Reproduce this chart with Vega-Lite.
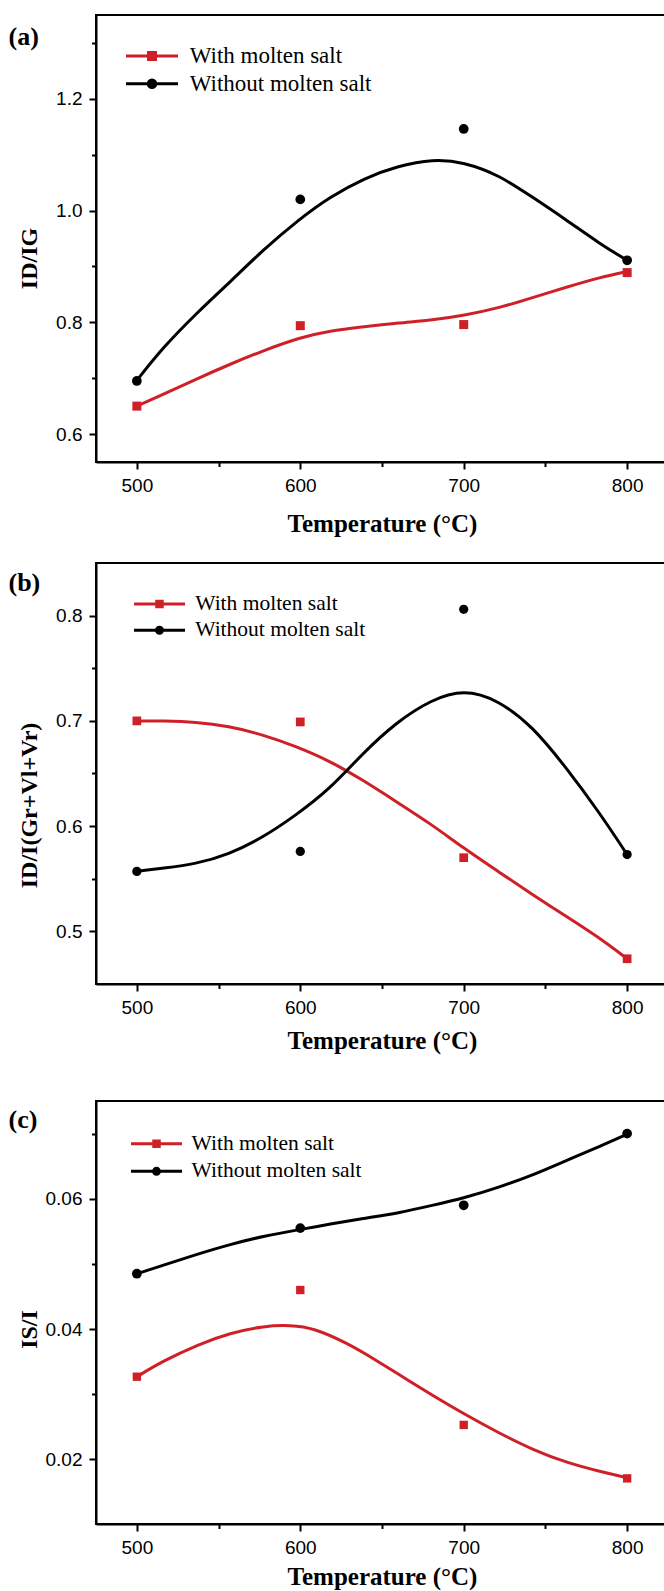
{
  "$schema": "https://vega.github.io/schema/vega-lite/v6.json",
  "padding": {"left": 7, "top": 14, "right": 0, "bottom": 0},
  "background": "white",
  "config": {
    "font": "Liberation Sans",
    "view": {"stroke": "black", "strokeWidth": 2},
    "axis": {
      "grid": false,
      "domainColor": "black",
      "domainWidth": 2,
      "tickColor": "black",
      "tickWidth": 2,
      "labelFont": "Liberation Sans",
      "labelFontSize": 19,
      "labelColor": "black",
      "labelPadding": 7,
      "titleFont": "Liberation Serif",
      "titleFontWeight": "bold",
      "titleFontSize": 25,
      "titleColor": "black"
    }
  },
  "datasets": {
    "pts": [
      {"panel": "a", "series": "With molten salt", "temp": 500, "value": 0.650},
      {"panel": "a", "series": "With molten salt", "temp": 600, "value": 0.794},
      {"panel": "a", "series": "With molten salt", "temp": 700, "value": 0.796},
      {"panel": "a", "series": "With molten salt", "temp": 800, "value": 0.889},
      {"panel": "a", "series": "Without molten salt", "temp": 500, "value": 0.695},
      {"panel": "a", "series": "Without molten salt", "temp": 600, "value": 1.020},
      {"panel": "a", "series": "Without molten salt", "temp": 700, "value": 1.146},
      {"panel": "a", "series": "Without molten salt", "temp": 800, "value": 0.911},
      {"panel": "b", "series": "With molten salt", "temp": 500, "value": 0.700},
      {"panel": "b", "series": "With molten salt", "temp": 600, "value": 0.699},
      {"panel": "b", "series": "With molten salt", "temp": 700, "value": 0.570},
      {"panel": "b", "series": "With molten salt", "temp": 800, "value": 0.474},
      {"panel": "b", "series": "Without molten salt", "temp": 500, "value": 0.557},
      {"panel": "b", "series": "Without molten salt", "temp": 600, "value": 0.576},
      {"panel": "b", "series": "Without molten salt", "temp": 700, "value": 0.806},
      {"panel": "b", "series": "Without molten salt", "temp": 800, "value": 0.573},
      {"panel": "c", "series": "With molten salt", "temp": 500, "value": 0.0327},
      {"panel": "c", "series": "With molten salt", "temp": 600, "value": 0.0460},
      {"panel": "c", "series": "With molten salt", "temp": 700, "value": 0.0253},
      {"panel": "c", "series": "With molten salt", "temp": 800, "value": 0.0171},
      {"panel": "c", "series": "Without molten salt", "temp": 500, "value": 0.0485},
      {"panel": "c", "series": "Without molten salt", "temp": 600, "value": 0.0555},
      {"panel": "c", "series": "Without molten salt", "temp": 700, "value": 0.0590},
      {"panel": "c", "series": "Without molten salt", "temp": 800, "value": 0.0700}
    ],
    "fit": [
      {"panel": "a", "series": "With molten salt", "temp": 500, "value": 0.650},
      {"panel": "a", "series": "With molten salt", "temp": 516, "value": 0.671},
      {"panel": "a", "series": "With molten salt", "temp": 536, "value": 0.698},
      {"panel": "a", "series": "With molten salt", "temp": 557, "value": 0.725},
      {"panel": "a", "series": "With molten salt", "temp": 577, "value": 0.749},
      {"panel": "a", "series": "With molten salt", "temp": 600, "value": 0.773},
      {"panel": "a", "series": "With molten salt", "temp": 618, "value": 0.785},
      {"panel": "a", "series": "With molten salt", "temp": 639, "value": 0.792},
      {"panel": "a", "series": "With molten salt", "temp": 660, "value": 0.799},
      {"panel": "a", "series": "With molten salt", "temp": 681, "value": 0.804},
      {"panel": "a", "series": "With molten salt", "temp": 700, "value": 0.812},
      {"panel": "a", "series": "With molten salt", "temp": 722, "value": 0.826},
      {"panel": "a", "series": "With molten salt", "temp": 742, "value": 0.844},
      {"panel": "a", "series": "With molten salt", "temp": 763, "value": 0.863},
      {"panel": "a", "series": "With molten salt", "temp": 783, "value": 0.880},
      {"panel": "a", "series": "With molten salt", "temp": 800, "value": 0.891},
      {"panel": "a", "series": "Without molten salt", "temp": 500, "value": 0.696},
      {"panel": "a", "series": "Without molten salt", "temp": 516, "value": 0.755},
      {"panel": "a", "series": "Without molten salt", "temp": 536, "value": 0.815},
      {"panel": "a", "series": "Without molten salt", "temp": 557, "value": 0.872},
      {"panel": "a", "series": "Without molten salt", "temp": 577, "value": 0.929},
      {"panel": "a", "series": "Without molten salt", "temp": 600, "value": 0.986},
      {"panel": "a", "series": "Without molten salt", "temp": 618, "value": 1.024},
      {"panel": "a", "series": "Without molten salt", "temp": 639, "value": 1.058},
      {"panel": "a", "series": "Without molten salt", "temp": 660, "value": 1.080},
      {"panel": "a", "series": "Without molten salt", "temp": 681, "value": 1.092},
      {"panel": "a", "series": "Without molten salt", "temp": 700, "value": 1.087},
      {"panel": "a", "series": "Without molten salt", "temp": 722, "value": 1.063},
      {"panel": "a", "series": "Without molten salt", "temp": 742, "value": 1.024},
      {"panel": "a", "series": "Without molten salt", "temp": 763, "value": 0.983},
      {"panel": "a", "series": "Without molten salt", "temp": 783, "value": 0.941},
      {"panel": "a", "series": "Without molten salt", "temp": 800, "value": 0.911},
      {"panel": "b", "series": "With molten salt", "temp": 500, "value": 0.700},
      {"panel": "b", "series": "With molten salt", "temp": 516, "value": 0.700},
      {"panel": "b", "series": "With molten salt", "temp": 536, "value": 0.699},
      {"panel": "b", "series": "With molten salt", "temp": 556, "value": 0.695},
      {"panel": "b", "series": "With molten salt", "temp": 577, "value": 0.687},
      {"panel": "b", "series": "With molten salt", "temp": 597, "value": 0.676},
      {"panel": "b", "series": "With molten salt", "temp": 618, "value": 0.662},
      {"panel": "b", "series": "With molten salt", "temp": 638, "value": 0.644},
      {"panel": "b", "series": "With molten salt", "temp": 659, "value": 0.623},
      {"panel": "b", "series": "With molten salt", "temp": 680, "value": 0.602},
      {"panel": "b", "series": "With molten salt", "temp": 700, "value": 0.579},
      {"panel": "b", "series": "With molten salt", "temp": 721, "value": 0.557},
      {"panel": "b", "series": "With molten salt", "temp": 742, "value": 0.535},
      {"panel": "b", "series": "With molten salt", "temp": 762, "value": 0.515},
      {"panel": "b", "series": "With molten salt", "temp": 783, "value": 0.494},
      {"panel": "b", "series": "With molten salt", "temp": 800, "value": 0.474},
      {"panel": "b", "series": "Without molten salt", "temp": 500, "value": 0.557},
      {"panel": "b", "series": "Without molten salt", "temp": 516, "value": 0.560},
      {"panel": "b", "series": "Without molten salt", "temp": 536, "value": 0.564},
      {"panel": "b", "series": "Without molten salt", "temp": 556, "value": 0.573},
      {"panel": "b", "series": "Without molten salt", "temp": 577, "value": 0.589},
      {"panel": "b", "series": "Without molten salt", "temp": 597, "value": 0.610},
      {"panel": "b", "series": "Without molten salt", "temp": 618, "value": 0.635},
      {"panel": "b", "series": "Without molten salt", "temp": 638, "value": 0.669},
      {"panel": "b", "series": "Without molten salt", "temp": 659, "value": 0.699},
      {"panel": "b", "series": "Without molten salt", "temp": 680, "value": 0.720},
      {"panel": "b", "series": "Without molten salt", "temp": 700, "value": 0.730},
      {"panel": "b", "series": "Without molten salt", "temp": 721, "value": 0.720},
      {"panel": "b", "series": "Without molten salt", "temp": 742, "value": 0.695},
      {"panel": "b", "series": "Without molten salt", "temp": 762, "value": 0.657},
      {"panel": "b", "series": "Without molten salt", "temp": 783, "value": 0.613},
      {"panel": "b", "series": "Without molten salt", "temp": 800, "value": 0.573},
      {"panel": "c", "series": "With molten salt", "temp": 500, "value": 0.0327},
      {"panel": "c", "series": "With molten salt", "temp": 516, "value": 0.0351},
      {"panel": "c", "series": "With molten salt", "temp": 537, "value": 0.0376},
      {"panel": "c", "series": "With molten salt", "temp": 557, "value": 0.0394},
      {"panel": "c", "series": "With molten salt", "temp": 578, "value": 0.0405},
      {"panel": "c", "series": "With molten salt", "temp": 594, "value": 0.0406},
      {"panel": "c", "series": "With molten salt", "temp": 608, "value": 0.0402},
      {"panel": "c", "series": "With molten salt", "temp": 629, "value": 0.0378},
      {"panel": "c", "series": "With molten salt", "temp": 640, "value": 0.0362},
      {"panel": "c", "series": "With molten salt", "temp": 660, "value": 0.0331},
      {"panel": "c", "series": "With molten salt", "temp": 681, "value": 0.0298},
      {"panel": "c", "series": "With molten salt", "temp": 700, "value": 0.0270},
      {"panel": "c", "series": "With molten salt", "temp": 722, "value": 0.0240},
      {"panel": "c", "series": "With molten salt", "temp": 743, "value": 0.0214},
      {"panel": "c", "series": "With molten salt", "temp": 763, "value": 0.0195},
      {"panel": "c", "series": "With molten salt", "temp": 784, "value": 0.0181},
      {"panel": "c", "series": "With molten salt", "temp": 800, "value": 0.0172},
      {"panel": "c", "series": "Without molten salt", "temp": 500, "value": 0.0485},
      {"panel": "c", "series": "Without molten salt", "temp": 516, "value": 0.0498},
      {"panel": "c", "series": "Without molten salt", "temp": 537, "value": 0.0515},
      {"panel": "c", "series": "Without molten salt", "temp": 557, "value": 0.0530},
      {"panel": "c", "series": "Without molten salt", "temp": 578, "value": 0.0543},
      {"panel": "c", "series": "Without molten salt", "temp": 600, "value": 0.0553},
      {"panel": "c", "series": "Without molten salt", "temp": 618, "value": 0.0561},
      {"panel": "c", "series": "Without molten salt", "temp": 639, "value": 0.0570},
      {"panel": "c", "series": "Without molten salt", "temp": 660, "value": 0.0578},
      {"panel": "c", "series": "Without molten salt", "temp": 681, "value": 0.0590},
      {"panel": "c", "series": "Without molten salt", "temp": 700, "value": 0.0601},
      {"panel": "c", "series": "Without molten salt", "temp": 722, "value": 0.0618},
      {"panel": "c", "series": "Without molten salt", "temp": 743, "value": 0.0637},
      {"panel": "c", "series": "Without molten salt", "temp": 763, "value": 0.0659},
      {"panel": "c", "series": "Without molten salt", "temp": 784, "value": 0.0681},
      {"panel": "c", "series": "Without molten salt", "temp": 800, "value": 0.0699}
    ]
  },
  "spacing": 46,
  "resolve": {"scale": {"color": "independent", "shape": "independent"}, "legend": {"color": "independent", "shape": "independent"}},
  "vconcat": [
    {
      "spacing": 25,
      "resolve": {"scale": {"color": "independent", "shape": "independent"}, "legend": {"color": "independent", "shape": "independent"}},
      "vconcat": [
        {
          "width": 572,
          "height": 447,
          "resolve": {"axis": {"x": "independent"}},
          "encoding": {
            "x": {"field": "temp", "type": "quantitative", "scale": {"domain": [475, 825], "nice": false, "zero": false}, "axis": null},
            "y": {"field": "value", "type": "quantitative", "scale": {"domain": [0.55, 1.35], "nice": false, "zero": false},
              "axis": {"title": "ID/IG", "titleFontSize": 24, "titlePadding": 10, "minExtent": 45, "maxExtent": 45, "titleY": 243,
                "values": [0.6, 0.7, 0.8, 0.9, 1.0, 1.1, 1.2, 1.3], "format": ".1f",
                "labelExpr": "round(datum.value * 10) % 2 === 0 ? datum.label : ''", "labelOverlap": false,
                "tickSize": {"condition": {"test": "round(datum.value * 10) % 2 !== 0", "value": 4.5}, "value": 7}}},
            "color": {"field": "series", "type": "nominal",
              "scale": {"domain": ["With molten salt", "Without molten salt"], "range": ["#cf2027", "#000000"]},
              "legend": {"orient": "none", "legendX": 44.5, "legendY": 29.5, "title": null, "padding": 0,
                "labelFont": "Liberation Serif", "labelFontSize": 23, "labelColor": "black", "labelLimit": 400,
                "labelOffset": 26.2, "rowPadding": 3.8, "symbolSize": 100, "symbolStrokeWidth": 3, "symbolOpacity": 1}}
          },
          "layer": [
            {"data": {"name": "fit"}, "transform": [{"filter": "datum.panel === 'a'"}],
              "mark": {"type": "line", "strokeWidth": 3, "interpolate": "basis"},
              "encoding": {
                "x": {"field": "temp", "type": "quantitative", "scale": {"domain": [475, 825], "nice": false, "zero": false},
                  "axis": {"title": "Temperature (°C)", "titlePadding": 16, "values": [500, 550, 600, 650, 700, 750, 800],
                    "labelExpr": "datum.value % 100 === 0 ? datum.label : ''", "labelFlush": false, "labelOverlap": false,
                    "tickSize": {"condition": {"test": "datum.value % 100 !== 0", "value": 4.5}, "value": 7}}}}},
            {"data": {"name": "pts"}, "transform": [{"filter": "false"}],
              "mark": {"type": "point", "filled": true, "size": 100},
              "encoding": {
                "x": {"field": "temp", "type": "quantitative", "scale": {"domain": [475, 825], "nice": false, "zero": false},
                  "axis": {"orient": "top", "title": "(a)", "domain": false, "ticks": false, "labels": false,
                    "titleX": -88, "titleY": 21, "titleAlign": "left", "titleBaseline": "middle", "titleAngle": 0,
                    "titleFontSize": 26, "titlePadding": 0}},
                "shape": {"field": "series", "type": "nominal",
                  "scale": {"domain": ["With molten salt", "Without molten salt"], "range": ["M-5.2,0H5.2M-0.7,-0.7H0.7V0.7H-0.7Z", "M-5.2,0H5.2M-0.75,0A0.75,0.75,0,1,0,0.75,0A0.75,0.75,0,1,0,-0.75,0Z"]},
                  "legend": {"orient": "none", "legendX": 44.5, "legendY": 29.5, "title": null, "padding": 0,
                    "labelFont": "Liberation Serif", "labelFontSize": 23, "labelColor": "black", "labelLimit": 400,
                    "labelOffset": 26.2, "rowPadding": 3.8, "symbolSize": 100, "symbolStrokeWidth": 3, "symbolOpacity": 1}}}},
            {"data": {"name": "pts"}, "transform": [{"filter": "datum.panel === 'a' && datum.series === 'With molten salt'"}],
              "mark": {"type": "square", "size": 81, "opacity": 1}},
            {"data": {"name": "pts"}, "transform": [{"filter": "datum.panel === 'a' && datum.series === 'Without molten salt'"}],
              "mark": {"type": "circle", "size": 95, "opacity": 1}}
          ]
        },
        {
          "width": 572,
          "height": 421,
          "resolve": {"axis": {"x": "independent"}},
          "encoding": {
            "x": {"field": "temp", "type": "quantitative", "scale": {"domain": [475, 825], "nice": false, "zero": false}, "axis": null},
            "y": {"field": "value", "type": "quantitative", "scale": {"domain": [0.45, 0.85], "nice": false, "zero": false},
              "axis": {"title": "ID/I(Gr+Vl+Vr)", "titleFontSize": 24, "titlePadding": 10, "minExtent": 45, "maxExtent": 45, "titleY": 242,
                "values": [0.5, 0.55, 0.6, 0.65, 0.7, 0.75, 0.8], "format": ".1f",
                "labelExpr": "round(datum.value * 100) % 10 === 0 ? datum.label : ''", "labelOverlap": false,
                "tickSize": {"condition": {"test": "round(datum.value * 100) % 10 !== 0", "value": 4.5}, "value": 7}}},
            "color": {"field": "series", "type": "nominal",
              "scale": {"domain": ["With molten salt", "Without molten salt"], "range": ["#cf2027", "#000000"]},
              "legend": {"orient": "none", "legendX": 52.75, "legendY": 30.3, "title": null, "padding": 0,
                "labelFont": "Liberation Serif", "labelFontSize": 21.5, "labelColor": "black", "labelLimit": 400,
                "labelOffset": 24.95, "rowPadding": 3.2, "symbolSize": 100, "symbolStrokeWidth": 3, "symbolOpacity": 1}}
          },
          "layer": [
            {"data": {"name": "fit"}, "transform": [{"filter": "datum.panel === 'b'"}],
              "mark": {"type": "line", "strokeWidth": 3, "interpolate": "basis"},
              "encoding": {
                "x": {"field": "temp", "type": "quantitative", "scale": {"domain": [475, 825], "nice": false, "zero": false},
                  "axis": {"title": "Temperature (°C)", "titlePadding": 11, "values": [500, 550, 600, 650, 700, 750, 800],
                    "labelExpr": "datum.value % 100 === 0 ? datum.label : ''", "labelFlush": false, "labelOverlap": false,
                    "tickSize": {"condition": {"test": "datum.value % 100 !== 0", "value": 4.5}, "value": 7}}}}},
            {"data": {"name": "pts"}, "transform": [{"filter": "false"}],
              "mark": {"type": "point", "filled": true, "size": 100},
              "encoding": {
                "x": {"field": "temp", "type": "quantitative", "scale": {"domain": [475, 825], "nice": false, "zero": false},
                  "axis": {"orient": "top", "title": "(b)", "domain": false, "ticks": false, "labels": false,
                    "titleX": -88, "titleY": 19, "titleAlign": "left", "titleBaseline": "middle", "titleAngle": 0,
                    "titleFontSize": 26, "titlePadding": 0}},
                "shape": {"field": "series", "type": "nominal",
                  "scale": {"domain": ["With molten salt", "Without molten salt"], "range": ["M-5.1,0H5.1M-0.55,-0.55H0.55V0.55H-0.55Z", "M-5.1,0H5.1M-0.6,0A0.6,0.6,0,1,0,0.6,0A0.6,0.6,0,1,0,-0.6,0Z"]},
                  "legend": {"orient": "none", "legendX": 52.75, "legendY": 30.3, "title": null, "padding": 0,
                    "labelFont": "Liberation Serif", "labelFontSize": 21.5, "labelColor": "black", "labelLimit": 400,
                    "labelOffset": 24.95, "rowPadding": 3.2, "symbolSize": 100, "symbolStrokeWidth": 3, "symbolOpacity": 1}}}},
            {"data": {"name": "pts"}, "transform": [{"filter": "datum.panel === 'b' && datum.series === 'With molten salt'"}],
              "mark": {"type": "square", "size": 76, "opacity": 1}},
            {"data": {"name": "pts"}, "transform": [{"filter": "datum.panel === 'b' && datum.series === 'Without molten salt'"}],
              "mark": {"type": "circle", "size": 85, "opacity": 1}}
          ]
        }
      ]
    },
    {
      "width": 572,
      "height": 423,
      "resolve": {"axis": {"x": "independent"}},
      "encoding": {
        "x": {"field": "temp", "type": "quantitative", "scale": {"domain": [475, 825], "nice": false, "zero": false}, "axis": null},
        "y": {"field": "value", "type": "quantitative", "scale": {"domain": [0.0101, 0.075], "nice": false, "zero": false},
          "axis": {"title": "IS/I", "titleFontSize": 24, "titlePadding": 10, "minExtent": 45, "maxExtent": 45, "titleY": 228,
            "values": [0.02, 0.03, 0.04, 0.05, 0.06, 0.07], "format": ".2f",
            "labelExpr": "round(datum.value * 100) % 2 === 0 ? datum.label : ''", "labelOverlap": false,
            "tickSize": {"condition": {"test": "round(datum.value * 100) % 2 !== 0", "value": 4.5}, "value": 7}}},
        "color": {"field": "series", "type": "nominal",
          "scale": {"domain": ["With molten salt", "Without molten salt"], "range": ["#cf2027", "#000000"]},
          "legend": {"orient": "none", "legendX": 49.75, "legendY": 32.1, "title": null, "padding": 0,
            "labelFont": "Liberation Serif", "labelFontSize": 21.5, "labelColor": "black", "labelLimit": 400,
            "labelOffset": 24.35, "rowPadding": 4.5, "symbolSize": 100, "symbolStrokeWidth": 3, "symbolOpacity": 1}}
      },
      "layer": [
        {"data": {"name": "fit"}, "transform": [{"filter": "datum.panel === 'c'"}],
          "mark": {"type": "line", "strokeWidth": 3, "interpolate": "basis"},
          "encoding": {
            "x": {"field": "temp", "type": "quantitative", "scale": {"domain": [475, 825], "nice": false, "zero": false},
              "axis": {"title": "Temperature (°C)", "titlePadding": 7, "values": [500, 550, 600, 650, 700, 750, 800],
                "labelExpr": "datum.value % 100 === 0 ? datum.label : ''", "labelFlush": false, "labelOverlap": false,
                "tickSize": {"condition": {"test": "datum.value % 100 !== 0", "value": 4.5}, "value": 7}}}}},
        {"data": {"name": "pts"}, "transform": [{"filter": "false"}],
          "mark": {"type": "point", "filled": true, "size": 100},
          "encoding": {
            "x": {"field": "temp", "type": "quantitative", "scale": {"domain": [475, 825], "nice": false, "zero": false},
              "axis": {"orient": "top", "title": "(c)", "domain": false, "ticks": false, "labels": false,
                "titleX": -88, "titleY": 18, "titleAlign": "left", "titleBaseline": "middle", "titleAngle": 0,
                "titleFontSize": 26, "titlePadding": 0}},
            "shape": {"field": "series", "type": "nominal",
              "scale": {"domain": ["With molten salt", "Without molten salt"], "range": ["M-5.1,0H5.1M-0.55,-0.55H0.55V0.55H-0.55Z", "M-5.1,0H5.1M-0.6,0A0.6,0.6,0,1,0,0.6,0A0.6,0.6,0,1,0,-0.6,0Z"]},
              "legend": {"orient": "none", "legendX": 49.75, "legendY": 32.1, "title": null, "padding": 0,
                "labelFont": "Liberation Serif", "labelFontSize": 21.5, "labelColor": "black", "labelLimit": 400,
                "labelOffset": 24.35, "rowPadding": 4.5, "symbolSize": 100, "symbolStrokeWidth": 3, "symbolOpacity": 1}}}},
        {"data": {"name": "pts"}, "transform": [{"filter": "datum.panel === 'c' && datum.series === 'With molten salt'"}],
          "mark": {"type": "square", "size": 70, "opacity": 1}},
        {"data": {"name": "pts"}, "transform": [{"filter": "datum.panel === 'c' && datum.series === 'Without molten salt'"}],
          "mark": {"type": "circle", "size": 95, "opacity": 1}}
      ]
    }
  ]
}
